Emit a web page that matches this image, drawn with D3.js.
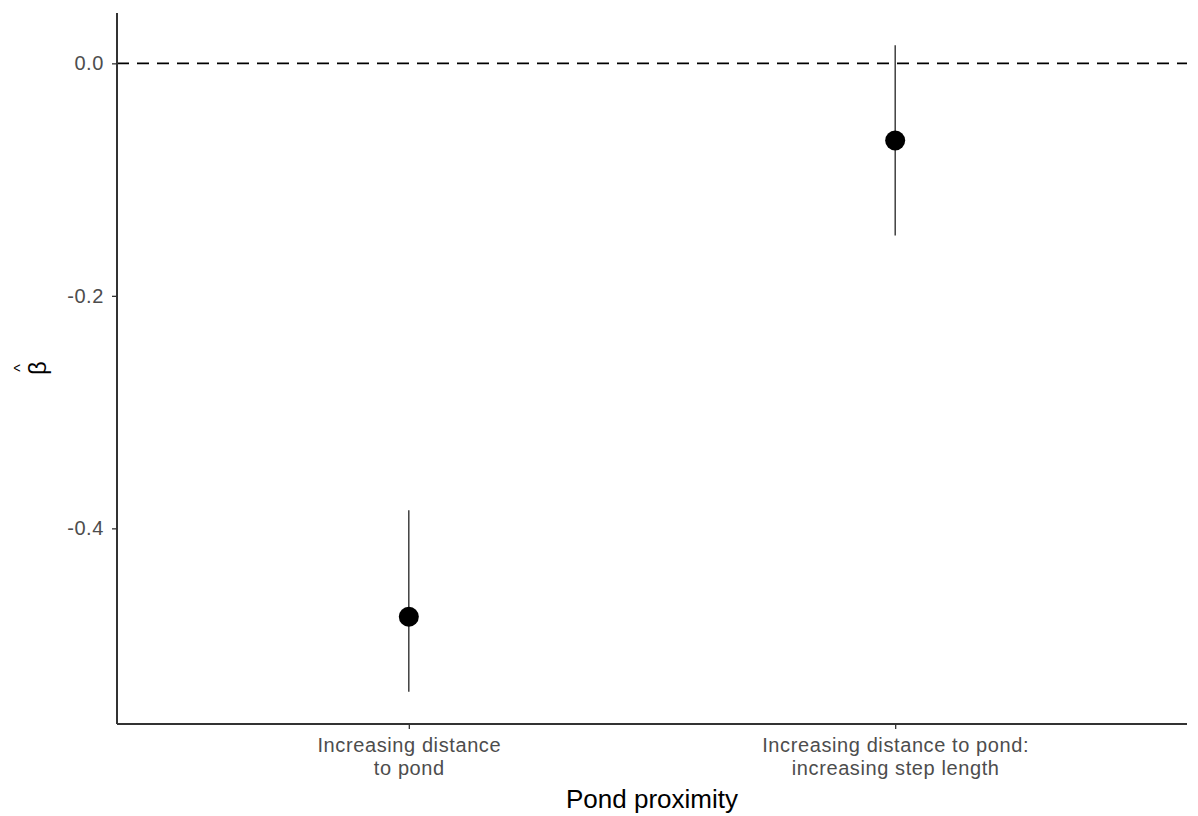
<!DOCTYPE html>
<html>
<head>
<meta charset="utf-8">
<script src="https://cdn.jsdelivr.net/npm/d3@7"></script>
<style>
  body { margin: 0; background: #fff; }
  text { font-family: "Liberation Sans", Arial, sans-serif; }
</style>
</head>
<body>
<svg id="chart" width="1198" height="816"></svg>
<script>
// Data.
const categories = ['Increasing distance\nto pond', 'Increasing distance to pond:\nincreasing step length'];
const estimates = [-0.476, -0.0664];
const lower = [-0.5405, -0.148];
const upper = [-0.3845, 0.0155];
const yTicks = [0.0, -0.2, -0.4];

const margin = {top: 13, right: 11, bottom: 92, left: 117};
const width = 1198 - margin.left - margin.right;
const height = 816 - margin.top - margin.bottom;

const svg = d3.select('#chart');
const g = svg.append('g').attr('transform', `translate(${margin.left}, ${margin.top})`);

const x = d3.scalePoint().domain(categories).range([0, width]).padding(0.6);
const lo = d3.min(lower), hi = d3.max(upper), pad = (hi - lo) * 0.05;
const y = d3.scaleLinear().domain([lo - pad, hi + pad]).range([height, 0]);

// Reference line at zero.
g.append('line')
  .attr('x1', 0).attr('x2', width)
  .attr('y1', y(0)).attr('y2', y(0))
  .attr('stroke', '#000').attr('stroke-width', 1.8)
  .attr('stroke-dasharray', '12,8');

// Error bars and points.
const rows = categories.map((c, i) => ({c, est: estimates[i], lo: lower[i], hi: upper[i]}));
g.selectAll('.err').data(rows).join('line')
  .attr('class', 'err')
  .attr('x1', d => x(d.c)).attr('x2', d => x(d.c))
  .attr('y1', d => y(d.lo)).attr('y2', d => y(d.hi))
  .attr('stroke', '#222').attr('stroke-width', 1.3);
g.selectAll('.pt').data(rows).join('circle')
  .attr('class', 'pt')
  .attr('cx', d => x(d.c)).attr('cy', d => y(d.est))
  .attr('r', 10).attr('fill', '#000');

// Axes.
const fmt = d => d3.format('.1f')(d).replace('−', '-');
const yAxis = g.append('g').call(d3.axisLeft(y).tickValues(yTicks).tickFormat(fmt).tickSize(5).tickPadding(8));
const xAxis = g.append('g').attr('transform', `translate(0, ${height})`)
  .call(d3.axisBottom(x).tickSize(5).tickPadding(4));

[yAxis, xAxis].forEach(a => {
  a.select('.domain').attr('stroke', '#333').attr('stroke-width', 2);
  a.selectAll('.tick line').attr('stroke', '#333').attr('stroke-width', 1.3);
  a.selectAll('.tick text').attr('fill', '#4d4d4d').attr('font-size', 20).attr('letter-spacing', 0.6);
});
yAxis.select('.domain').attr('d', `M0,0V${height}`);
xAxis.select('.domain').attr('d', `M0,0H${width}`);

// Two-line category labels.
xAxis.selectAll('.tick text').each(function(d) {
  const t = d3.select(this).text(null).attr('y', 0).attr('dy', null);
  d.split('\n').forEach((line, i) => {
    t.append('tspan').attr('x', 0).attr('y', i === 0 ? 28 : 51).text(line);
  });
});

// Axis titles.
svg.append('text')
  .attr('x', margin.left + width / 2).attr('y', 808)
  .attr('text-anchor', 'middle').attr('font-size', 26).attr('fill', '#000')
  .text('Pond proximity');

const yt = svg.append('g').attr('transform', `translate(46, 368) rotate(-90)`);
yt.append('text').attr('text-anchor', 'middle').attr('font-size', 24).attr('fill', '#000').text('β');
yt.append('text').attr('text-anchor', 'middle').attr('y', -20).attr('font-size', 16).attr('fill', '#000').text('^');
</script>
</body>
</html>
